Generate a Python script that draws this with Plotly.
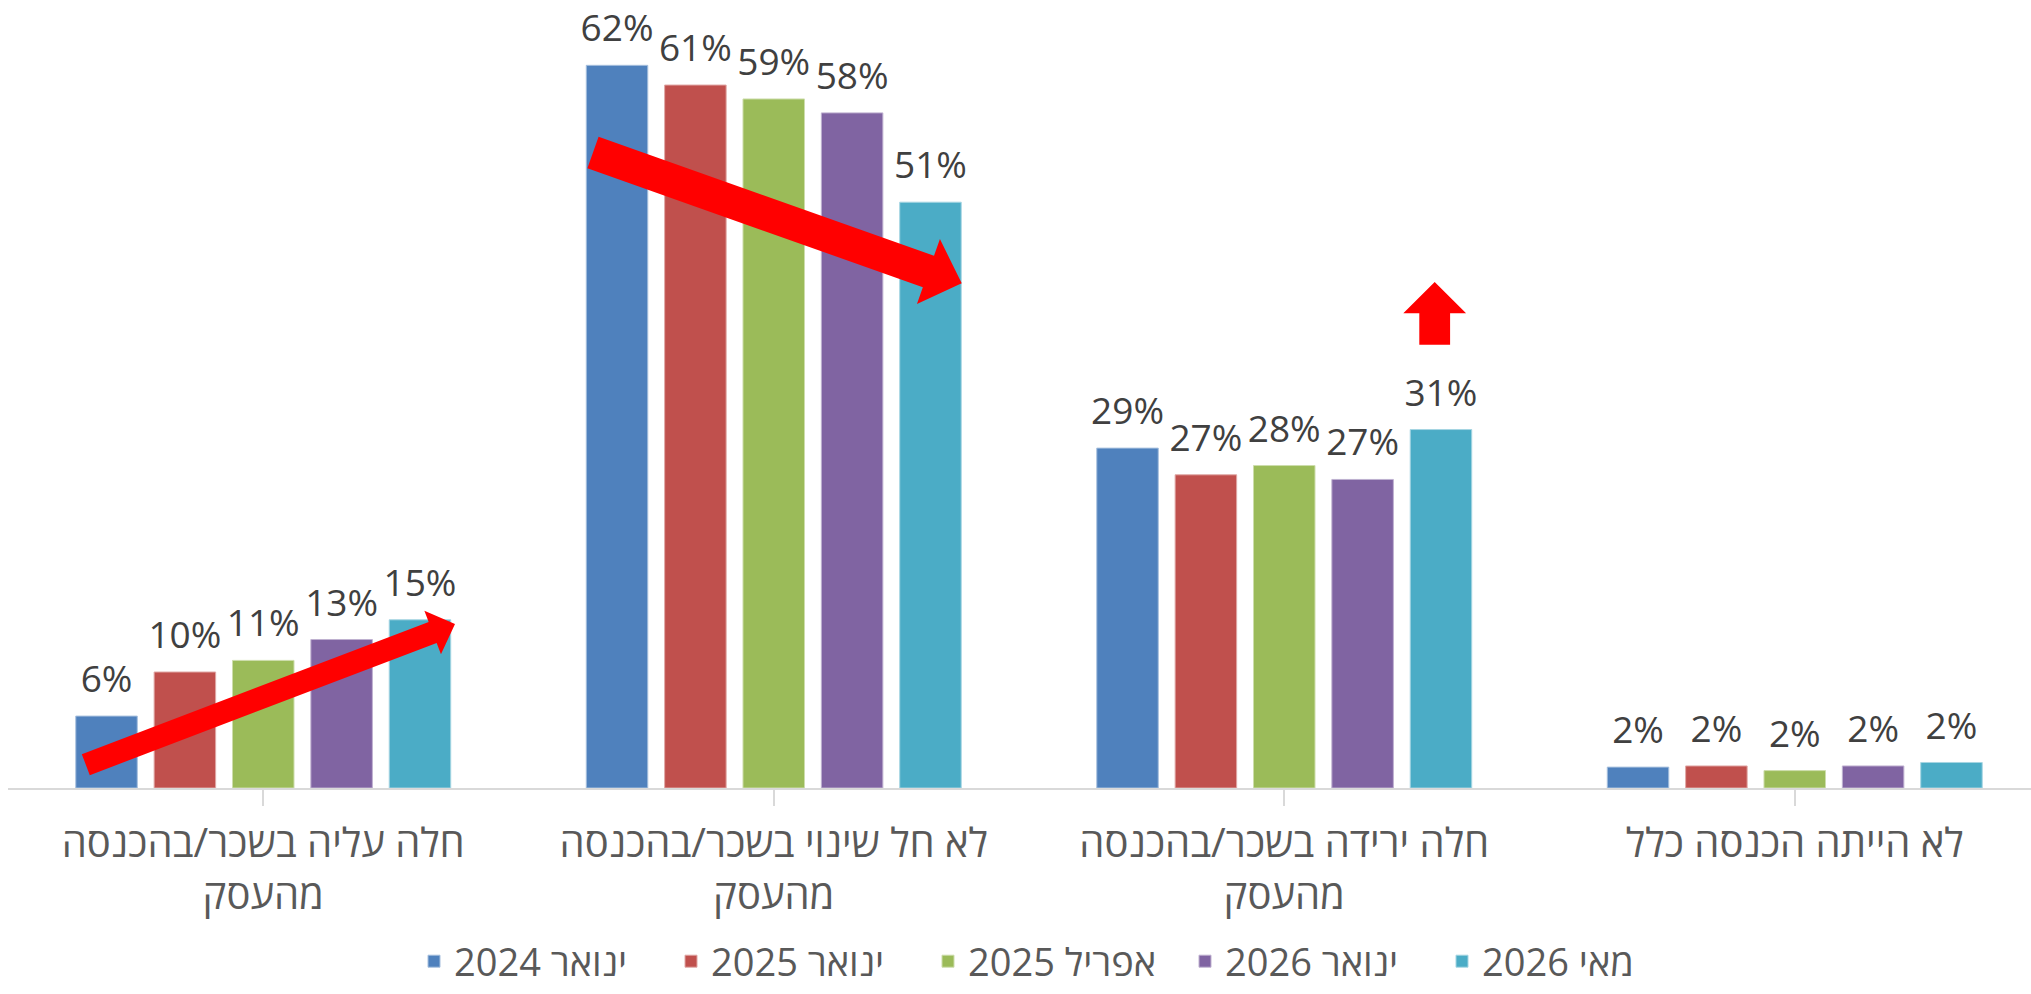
import math
import plotly.graph_objects as go

# ---- data ----
categories = [
    "חלה עליה בשכר/בהכנסה<br>מהעסק",
    "לא חל שינוי בשכר/בהכנסה<br>מהעסק",
    "חלה ירידה בשכר/בהכנסה<br>מהעסק",
    "לא הייתה הכנסה כלל",
]
series_names = ["ינואר 2024", "ינואר 2025", "אפריל 2025", "ינואר 2026", "מאי 2026"]
jan_2024 = [6.2, 62.3, 29.3, 1.8]
jan_2025 = [10.0, 60.6, 27.0, 1.9]
apr_2025 = [11.0, 59.4, 27.8, 1.5]
jan_2026 = [12.8, 58.2, 26.6, 1.9]
may_2026 = [14.5, 50.5, 30.9, 2.2]
labels_jan_2024 = ["6%", "62%", "29%", "2%"]
labels_jan_2025 = ["10%", "61%", "27%", "2%"]
labels_apr_2025 = ["11%", "59%", "28%", "2%"]
labels_jan_2026 = ["13%", "58%", "27%", "2%"]
labels_may_2026 = ["15%", "51%", "31%", "2%"]

values = [jan_2024, jan_2025, apr_2025, jan_2026, may_2026]
labels = [labels_jan_2024, labels_jan_2025, labels_apr_2025, labels_jan_2026, labels_may_2026]
colors = ["#4F81BD", "#C0504D", "#9BBB59", "#8064A2", "#4BACC6"]
edge_colors = ["#A7C0DE", "#E0A8A6", "#CDDDAC", "#BFB1D0", "#A5D5E2"]

FONT = "Open Sans, Liberation Sans, DejaVu Sans, sans-serif"
W, H = 2031, 994
ML, MR, MT, MB = 8, 0, 10, 206
PW, PH = W - ML - MR, H - MT - MB
CAT_PX = 510.5
PX_PER_PCT = 11.6
LABEL_PAD = 0.86  # transparent spacer under the value labels (in % units)

x_idx = list(range(len(categories)))
fig = go.Figure()
for i, (name, vals, lab, col, ecol) in enumerate(zip(series_names, values, labels, colors, edge_colors)):
    fig.add_trace(go.Bar(
        x=x_idx, y=vals, name="\u202b" + name + "\u202c",
        marker=dict(color=col, line=dict(width=1, color=ecol)),
        offsetgroup=str(i), hoverinfo="skip",
    ))
    fig.add_trace(go.Bar(
        x=x_idx, y=[LABEL_PAD] * len(vals), base=vals,
        marker=dict(color="rgba(0,0,0,0)", line=dict(width=0)),
        text=lab, textposition="outside", constraintext="none", cliponaxis=False,
        textfont=dict(family=FONT, size=37, color="#404040"),
        offsetgroup=str(i), showlegend=False, hoverinfo="skip",
    ))

# ---- decorative arrows (pixel geometry -> paper coords) ----
def to_paper(px, py):
    return (px - ML) / PW, (MT + PH - py) / PH

def arrow_path(tail, tip, w, hw, hl):
    dx, dy = tip[0] - tail[0], tip[1] - tail[1]
    L = math.hypot(dx, dy)
    ux, uy = dx / L, dy / L
    nx, ny = -uy, ux
    bx, by = tip[0] - ux * hl, tip[1] - uy * hl
    pts = [
        (tail[0] + nx * w, tail[1] + ny * w),
        (bx + nx * w, by + ny * w),
        (bx + nx * hw, by + ny * hw),
        tip,
        (bx - nx * hw, by - ny * hw),
        (bx - nx * w, by - ny * w),
        (tail[0] - nx * w, tail[1] - ny * w),
    ]
    pp = [to_paper(*p) for p in pts]
    return "M " + " L ".join(f"{a:.5f},{b:.5f}" for a, b in pp) + " Z"

arrows = [
    ((85.8, 764.7), (455.0, 624.0), 11.2, 23.3, 23.9),
    ((593.0, 152.5), (961.7, 283.3), 16.7, 34.4, 35.3),
    ((1434.7, 344.7), (1434.7, 282.0), 15.4, 31.4, 31.3),
]
shapes = [dict(type="path", xref="paper", yref="paper", path=arrow_path(*a),
               fillcolor="#FF0000", line=dict(width=0), layer="above") for a in arrows]

legend_bottom_y = (MT + PH - 993) / PH   # keep legend box inside the figure

fig.update_layout(
    width=W, height=H,
    margin=dict(l=ML, r=MR, t=MT, b=MB, autoexpand=False),
    paper_bgcolor="white", plot_bgcolor="white",
    barmode="group", bargap=0.2325, bargroupgap=0.215,
    showlegend=True,
    legend=dict(orientation="h", x=(414 - ML) / PW, xanchor="left",
                y=legend_bottom_y, yanchor="bottom", entrywidth=212, entrywidthmode="pixels",
                font=dict(family=FONT, size=38, color="#595959"), traceorder="normal"),
    xaxis=dict(
        tickmode="array", tickvals=x_idx, ticktext=categories,
        range=[-0.5, -0.5 + PW / CAT_PX],
        tickson="boundaries", ticks="outside", ticklen=16, tickcolor="#D9D9D9", tickwidth=2,
        showline=True, linecolor="#D9D9D9", linewidth=2, ticklabelstandoff=3,
        tickfont=dict(family=FONT, size=40, color="#595959"),
        showgrid=False, zeroline=False, fixedrange=True, automargin=False,
    ),
    yaxis=dict(range=[0, PH / PX_PER_PCT], visible=False, showgrid=False, zeroline=False),
    shapes=shapes,
)
fig.write_html(
    "out.html",
    config={"displayModeBar": False},
    post_script="document.body.style.margin='0';document.body.style.overflow='hidden';",
)
